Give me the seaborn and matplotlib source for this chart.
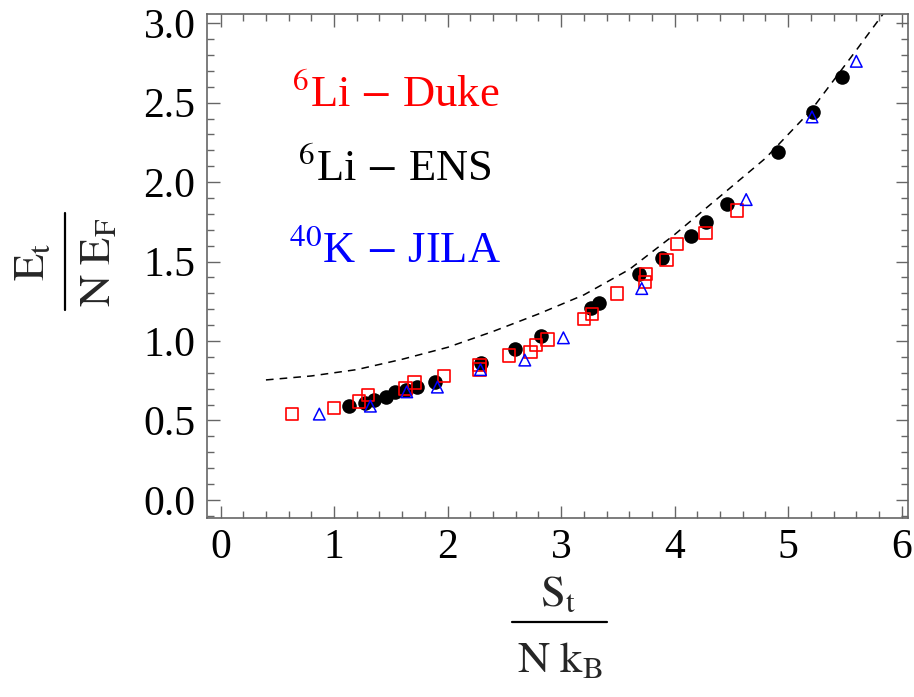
import numpy as np
import pandas as pd
import matplotlib
matplotlib.use("Agg")
import matplotlib.pyplot as plt
import seaborn as sns
from matplotlib.lines import Line2D
from matplotlib.ticker import MultipleLocator

# data
duke_x = [0.63, 1.00, 1.22, 1.30, 1.63, 1.71, 1.97, 2.28, 2.28, 2.54, 2.73, 2.78,
          2.88, 3.20, 3.27, 3.49, 3.74, 3.75, 3.93, 4.02, 4.27, 4.55]
duke_y = [0.54, 0.58, 0.62, 0.66, 0.70, 0.74, 0.78, 0.85, 0.82, 0.91, 0.93, 0.975,
          1.01, 1.14, 1.17, 1.30, 1.37, 1.42, 1.51, 1.61, 1.68, 1.82]

ens_x = [1.13, 1.27, 1.35, 1.46, 1.54, 1.63, 1.73, 1.89, 2.29, 2.59, 2.82, 3.26,
         3.33, 3.69, 3.89, 4.14, 4.28, 4.46, 4.91, 5.22, 5.47]
ens_y = [0.59, 0.61, 0.63, 0.65, 0.68, 0.69, 0.71, 0.74, 0.86, 0.95, 1.03, 1.21,
         1.24, 1.42, 1.52, 1.66, 1.75, 1.86, 2.19, 2.44, 2.66]

jila_x = [0.87, 1.32, 1.64, 1.91, 2.29, 2.68, 3.02, 3.71, 4.63, 5.21, 5.60]
jila_y = [0.54, 0.59, 0.68, 0.71, 0.82, 0.88, 1.02, 1.33, 1.89, 2.41, 2.76]

# dashed curve
curve_x = [0.4, 0.8, 1.2, 1.6, 2.0, 2.4, 2.8, 3.2, 3.6, 4.0, 4.4, 4.8, 5.2, 5.6, 5.9]
curve_y = [0.755, 0.78, 0.82, 0.885, 0.96, 1.06, 1.17, 1.29, 1.45, 1.67, 1.91,
           2.15, 2.45, 2.83, 3.12]

labels = [r"$^{6}$Li $-$ Duke", r"$^{6}$Li $-$ ENS", r"$^{40}$K $-$ JILA"]
label_colors = ["red", "black", "blue"]
label_y = [2.55, 2.08, 1.57]

sns.set_style("ticks")
plt.rcParams["font.family"] = ["Liberation Serif", "DejaVu Serif"]
plt.rcParams["mathtext.fontset"] = "stix"

W, H = 914, 697
fig = plt.figure(figsize=(W / 100, H / 100), dpi=100)
ax = fig.add_axes([0.226, 0.257, 0.7674, 0.723])

curve = pd.DataFrame({"x": curve_x, "y": curve_y})
sns.lineplot(data=curve, x="x", y="y", ax=ax, color="black", lw=1.1,
             linestyle=(0, (5, 4)))

sns.scatterplot(x=ens_x, y=ens_y, ax=ax, color="black", s=110, marker="o",
                edgecolor="black", linewidth=0, zorder=3)
sns.scatterplot(x=duke_x, y=duke_y, ax=ax, s=80, marker="s", facecolor="none",
                edgecolor="red", linewidth=1.2, zorder=4)
sns.scatterplot(x=jila_x, y=jila_y, ax=ax, s=70, marker="^", facecolor="none",
                edgecolor="blue", linewidth=1.1, zorder=5)

for txt, c, yy in zip(labels, label_colors, label_y):
    ax.text(1.54, yy, txt, color=c, fontsize=32, ha="center", va="center")

ax.xaxis.set_major_locator(MultipleLocator(1))
ax.xaxis.set_minor_locator(MultipleLocator(0.2))
ax.yaxis.set_major_locator(MultipleLocator(0.5))
ax.yaxis.set_minor_locator(MultipleLocator(0.1))
ax.set_ylim(-0.113, 3.058)
ax.set_xlim(-0.123, 6.055)
ax.set_yticks(ax.get_yticks())
ax.set_yticklabels([f"{v:.1f}" for v in ax.get_yticks()])
ax.set_xticks(ax.get_xticks())
ax.set_xticklabels([f"{v:.0f}" for v in ax.get_xticks()])
ax.set_ylim(-0.113, 3.058)
ax.set_xlim(-0.123, 6.055)
ax.set_xlabel("")
ax.set_ylabel("")

ax.tick_params(which="both", direction="in", top=True, right=True,
               color="#666666", labelsize=30, labelcolor="black", width=1)
ax.tick_params(which="major", length=9, pad=8)
ax.tick_params(which="minor", length=5)
for sp in ax.spines.values():
    sp.set_color("#666666")
    sp.set_linewidth(1.2)


def fx(px):
    return px / W


def fy(py):
    return 1 - py / H


# axis labels drawn as stacked fractions (numerator / bar / denominator)
fs = 32
fig.text(fx(558), fy(606), r"$\mathrm{S_t}$", fontsize=fs, ha="center", va="baseline")
fig.add_artist(Line2D([fx(512), fx(607)], [fy(622), fy(622)], color="black", lw=1.6))
fig.text(fx(560), fy(672), r"$\mathrm{N\ k_B}$", fontsize=fs, ha="center", va="baseline")

fig.text(fx(44), fy(262), r"$\mathrm{E_t}$", fontsize=fs, ha="center", va="baseline",
         rotation=90, rotation_mode="anchor")
fig.add_artist(Line2D([fx(65), fx(65)], [fy(213), fy(310)], color="black", lw=1.6))
fig.text(fx(110), fy(262), r"$\mathrm{N\ E_F}$", fontsize=fs, ha="center", va="baseline",
         rotation=90, rotation_mode="anchor")

fig.savefig("out.png", dpi=100)
